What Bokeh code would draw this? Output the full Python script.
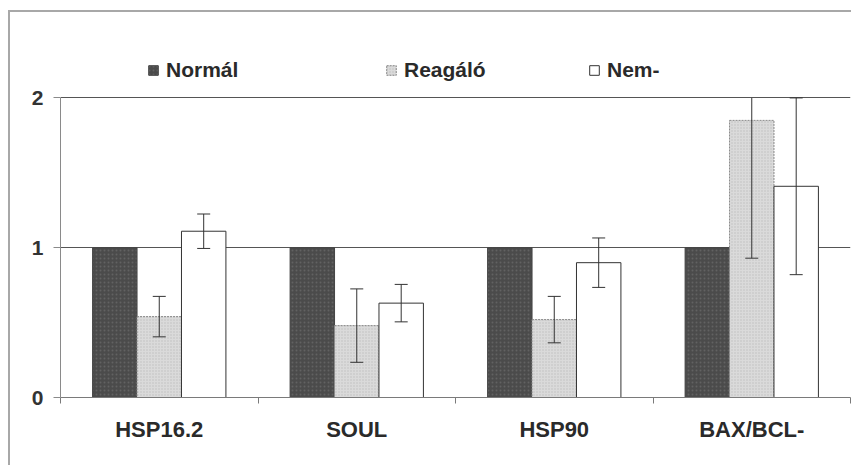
import numpy as np
from bokeh.plotting import figure
from bokeh.models import (ColumnDataSource, Range1d, LinearAxis, FixedTicker, Whisker, TeeHead,
                          Legend, LegendItem)
from bokeh.embed import file_html
from bokeh.resources import INLINE

# ---- data ----
categories = ["HSP16.2", "SOUL", "HSP90", "BAX/BCL-"]
series_names = ["Normál", "Reagáló", "Nem-"]
normal = [1.0, 1.0, 1.0, 1.0]
reagalo = [0.54, 0.48, 0.52, 1.85]
reagalo_err = [0.135, 0.245, 0.155, 0.92]
nem = [1.11, 0.63, 0.90, 1.41]
nem_err = [0.115, 0.125, 0.165, 0.59]
y_ticks = [0, 1, 2]
Y_MAX = 2.0

FONT = "Liberation Sans"
W = 0.225
n = len(categories)
centers = np.arange(n) + 0.5
boundaries = list(range(n + 1))

p = figure(x_range=Range1d(0, n), y_range=Range1d(0, 2.45),
           width=843, height=455, output_backend="svg", toolbar_location=None,
           x_axis_location=None, y_axis_location=None,
           min_border_left=50, min_border_right=3, min_border_top=18, min_border_bottom=70,
           background_fill_color="white", border_fill_color="white", outline_line_color=None)
p.margin = (10, 0, 0, 8)
p.styles = {"border-top": "2px solid #a8a8a8", "border-left": "2px solid #a8a8a8"}

# grid
p.xgrid.visible = False
p.ygrid.ticker = FixedTicker(ticks=[1, 2])
p.ygrid.grid_line_color = "#555555"
p.ygrid.grid_line_width = 1

# axes
yax = LinearAxis(ticker=FixedTicker(ticks=y_ticks), bounds=(0, 2))
yax.axis_line_color = "#8a8a8a"
yax.major_tick_line_color = "#8a8a8a"
yax.major_tick_out = 7
yax.major_tick_in = 0
yax.minor_tick_line_color = None
yax.major_label_text_font = FONT
yax.major_label_text_font_style = "bold"
yax.major_label_text_font_size = "21px"
yax.major_label_text_color = "#333333"
yax.major_label_standoff = 10
p.add_layout(yax, "left")

# category labels at the centres, boundary ticks as minor ticks
xax = LinearAxis(ticker=FixedTicker(ticks=list(centers), minor_ticks=boundaries),
                 major_label_overrides={float(c): lab for c, lab in zip(centers, categories)})
xax.axis_line_color = "#7a7a7a"
xax.major_tick_line_color = None
xax.major_tick_out = 0
xax.major_tick_in = 0
xax.minor_tick_line_color = "#7a7a7a"
xax.minor_tick_out = 6
xax.minor_tick_in = 0
xax.major_label_text_font = FONT
xax.major_label_text_font_style = "bold"
xax.major_label_text_font_size = "22px"
xax.major_label_text_color = "#2a2a2a"
xax.major_label_standoff = 13
p.add_layout(xax, "below")

# bars
r_norm = p.vbar(x=centers - W, top=normal, width=W,
                fill_color="#4b4b4b", line_color="#444444", line_width=1,
                hatch_pattern=".", hatch_color="#626262", hatch_scale=4, hatch_weight=1)
r_reag = p.vbar(x=centers, top=reagalo, width=W,
                fill_color="#dadada", line_color="#8a8a8a", line_width=1, line_dash="2 1",
                hatch_pattern=".", hatch_color="#bdbdbd", hatch_scale=3, hatch_weight=1)
r_nem = p.vbar(x=centers + W, top=nem, width=W,
               fill_color="white", line_color="#333333", line_width=1)

# error bars
def add_err(vals, errs, offset):
    vals = np.array(vals); errs = np.array(errs)
    up = vals + errs
    lo = vals - errs
    clipped = up > Y_MAX
    for mask, head in ((~clipped, True), (clipped, False)):
        if not mask.any():
            continue
        s = ColumnDataSource(dict(x=centers[mask] + offset,
                                  upper=np.minimum(up[mask], Y_MAX), lower=lo[mask]))
        w = Whisker(source=s, base="x", upper="upper", lower="lower", level="overlay",
                    line_color="#333333", line_width=1,
                    upper_head=TeeHead(size=13, line_color="#333333", line_width=1) if head else None,
                    lower_head=TeeHead(size=13, line_color="#333333", line_width=1))
        p.add_layout(w)

add_err(reagalo, reagalo_err, 0)
add_err(nem, nem_err, W)

# legends (three separate entries placed like the original)
for r, name, xloc in ((r_norm, series_names[0], 87), (r_reag, series_names[1], 325), (r_nem, series_names[2], 528)):
    leg = Legend(items=[LegendItem(label=name, renderers=[r])], location=(xloc, 315),
                 orientation="horizontal", padding=0, margin=0, border_line_color=None,
                 background_fill_alpha=0, glyph_width=12, glyph_height=12, label_standoff=7,
                 label_text_font=FONT, label_text_font_style="bold", label_text_font_size="21px",
                 label_text_color="#2a2a2a", label_height=20)
    p.add_layout(leg, "center")

open("out.html", "w").write(file_html(p, INLINE))
